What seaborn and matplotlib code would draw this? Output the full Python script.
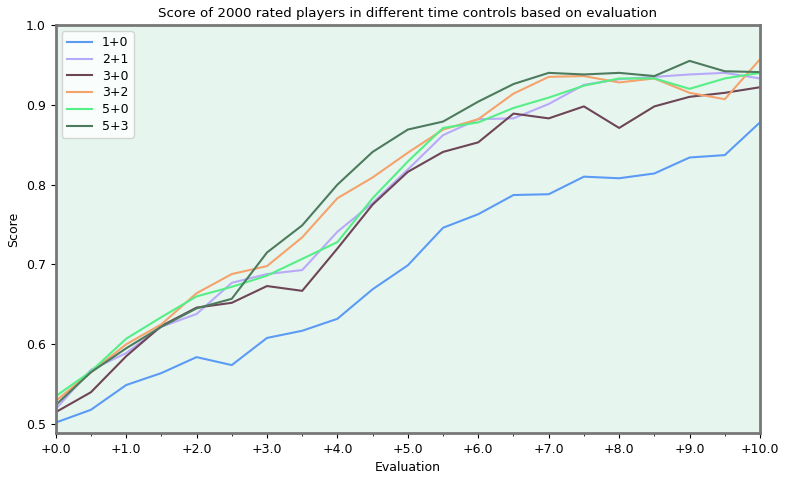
import numpy as np
import pandas as pd
import matplotlib
matplotlib.use("Agg")
import matplotlib.pyplot as plt
import seaborn as sns
from matplotlib.ticker import MultipleLocator, FuncFormatter

# evaluation steps (pawns)
evals = [0.0, 0.5, 1.0, 1.5, 2.0, 2.5, 3.0, 3.5, 4.0, 4.5, 5.0,
         5.5, 6.0, 6.5, 7.0, 7.5, 8.0, 8.5, 9.0, 9.5, 10.0]

score_1_0 = [0.502, 0.518, 0.549, 0.564, 0.584, 0.574, 0.608, 0.617, 0.632, 0.669, 0.699,
             0.746, 0.763, 0.787, 0.788, 0.810, 0.808, 0.814, 0.834, 0.837, 0.878]
score_2_1 = [0.519, 0.568, 0.589, 0.622, 0.638, 0.677, 0.688, 0.693, 0.741, 0.777, 0.819,
             0.862, 0.882, 0.883, 0.901, 0.925, 0.932, 0.935, 0.938, 0.940, 0.933]
score_3_0 = [0.515, 0.540, 0.585, 0.623, 0.646, 0.652, 0.673, 0.667, 0.720, 0.775, 0.816,
             0.841, 0.853, 0.889, 0.883, 0.898, 0.871, 0.898, 0.910, 0.915, 0.922]
score_3_2 = [0.529, 0.565, 0.600, 0.625, 0.664, 0.688, 0.698, 0.734, 0.783, 0.809, 0.840,
             0.869, 0.882, 0.914, 0.935, 0.936, 0.928, 0.933, 0.915, 0.907, 0.957]
score_5_0 = [0.535, 0.566, 0.607, 0.634, 0.660, 0.672, 0.686, 0.707, 0.728, 0.783, 0.829,
             0.871, 0.878, 0.896, 0.909, 0.924, 0.933, 0.933, 0.920, 0.933, 0.940]
score_5_3 = [0.524, 0.565, 0.595, 0.622, 0.645, 0.657, 0.715, 0.749, 0.800, 0.841, 0.869,
             0.879, 0.904, 0.926, 0.940, 0.938, 0.940, 0.936, 0.955, 0.942, 0.941]

controls = ["1+0", "2+1", "3+0", "3+2", "5+0", "5+3"]
colors = ["#5b9bf5", "#b9a9f9", "#6e4556", "#f5a26c", "#56ee86", "#4e7a5e"]

series = [score_1_0, score_2_1, score_3_0, score_3_2, score_5_0, score_5_3]
rows = []
for tc, vals in zip(controls, series):
    for e, v in zip(evals, vals):
        rows.append({"Evaluation": e, "Score": v, "Time control": tc})
df = pd.DataFrame(rows)

fig = plt.figure(figsize=(8, 4.8), dpi=100)
ax = fig.add_axes([0.0696, 0.098, 0.8804, 0.85])
ax.set_facecolor("#e6f6ef")

sns.lineplot(data=df, x="Evaluation", y="Score", hue="Time control",
             palette=dict(zip(controls, colors)), linewidth=1.5, ax=ax)

ax.set_xlim(0, 10)
ax.set_ylim(0.489, 1.0)
ax.xaxis.set_major_locator(MultipleLocator(1))
ax.xaxis.set_minor_locator(MultipleLocator(0.5))
ax.yaxis.set_major_locator(MultipleLocator(0.1))
ax.xaxis.set_major_formatter(FuncFormatter(lambda v, p: "%+.1f" % v))
for s in ax.spines.values():
    s.set_color("#777777")
    s.set_linewidth(2)

ax.set_title("Score of 2000 rated players in different time controls based on evaluation", fontsize=9.6)
ax.set_xlabel("Evaluation", fontsize=9)
ax.set_ylabel("Score", fontsize=9)
ax.tick_params(labelsize=9)
ax.legend(loc="upper left", fontsize=9, labelspacing=0.3, handletextpad=0.8)

fig.savefig("out.png", dpi=100)
